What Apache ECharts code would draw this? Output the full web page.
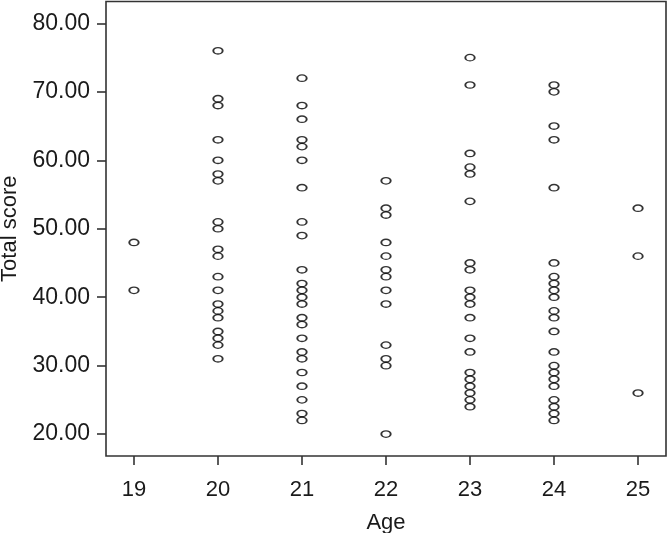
<!DOCTYPE html>
<html>
<head>
<meta charset="utf-8">
<script src="https://cdn.jsdelivr.net/npm/echarts@6/dist/echarts.min.js"></script>
<style>html,body{margin:0;padding:0;background:#fff}#c{width:668px;height:533px}</style>
</head>
<body>
<div id="c"></div>
<script>
const ages = [19, 20, 21, 22, 23, 24, 25];
const scores19 = [48, 41];
const scores20 = [76, 69, 68, 63, 60, 58, 57, 51, 50, 47, 46, 43, 41, 39, 38, 37, 35, 34, 33, 31];
const scores21 = [72, 68, 66, 63, 62, 60, 56, 51, 49, 44, 42, 41, 40, 39, 37, 36, 34, 32, 31, 29, 27, 25, 23, 22];
const scores22 = [57, 53, 52, 48, 46, 44, 43, 41, 39, 33, 31, 30, 20];
const scores23 = [75, 71, 61, 59, 58, 54, 45, 44, 41, 40, 39, 37, 34, 32, 29, 28, 27, 26, 25, 24];
const scores24 = [71, 70, 65, 63, 56, 45, 43, 42, 41, 40, 38, 37, 35, 32, 30, 29, 28, 27, 25, 24, 23, 22];
const scores25 = [53, 46, 26];
const yTicks = [20, 30, 40, 50, 60, 70, 80];
const xTicks = ages;

const groups = [scores19, scores20, scores21, scores22, scores23, scores24, scores25];
const points = [];
groups.forEach((g, i) => g.forEach(v => points.push([ages[i], v])));

const font = 'Liberation Sans, Arial, Helvetica, sans-serif';
const chart = echarts.init(document.getElementById('c'), null, {renderer: 'canvas'});
chart.setOption({
  animation: false,
  backgroundColor: '#fff',
  grid: {left: 106, right: 2, top: 1.5, bottom: 77, show: true, borderColor: '#333', borderWidth: 1.6, containLabel: false, outerBoundsMode: 'none'},
  xAxis: {
    type: 'value', min: 18.667, max: 25.333,
    name: 'Age', nameLocation: 'middle', nameGap: 56,
    nameTextStyle: {fontFamily: font, fontSize: 22, color: '#1a1a1a'},
    axisLine: {show: false},
    axisTick: {show: true, length: 9, lineStyle: {color: '#333', width: 1.6}, customValues: xTicks},
    axisLabel: {fontFamily: font, fontSize: 22, color: '#1a1a1a', margin: 23, customValues: xTicks, formatter: v => String(v)},
    splitLine: {show: false}
  },
  yAxis: {
    type: 'value', min: 16.8, max: 83.2,
    name: 'Total score', nameLocation: 'middle', nameGap: 85, nameRotate: 90,
    nameTextStyle: {fontFamily: font, fontSize: 22, color: '#1a1a1a'},
    axisLine: {show: false},
    axisTick: {show: true, length: 9, lineStyle: {color: '#333', width: 1.6}, customValues: yTicks},
    axisLabel: {fontFamily: font, fontSize: 23, color: '#1a1a1a', margin: 16, customValues: yTicks, formatter: v => v.toFixed(2)},
    splitLine: {show: false}
  },
  series: [{
    type: 'scatter',
    data: points,
    symbol: 'path://M0,5 A10,5 0 1,1 20,5 A10,5 0 1,1 0,5 Z',
    symbolSize: [9.4, 6.4],
    itemStyle: {color: 'rgba(0,0,0,0)', borderColor: '#000', borderWidth: 1.6}
  }]
});
</script>
</body>
</html>
